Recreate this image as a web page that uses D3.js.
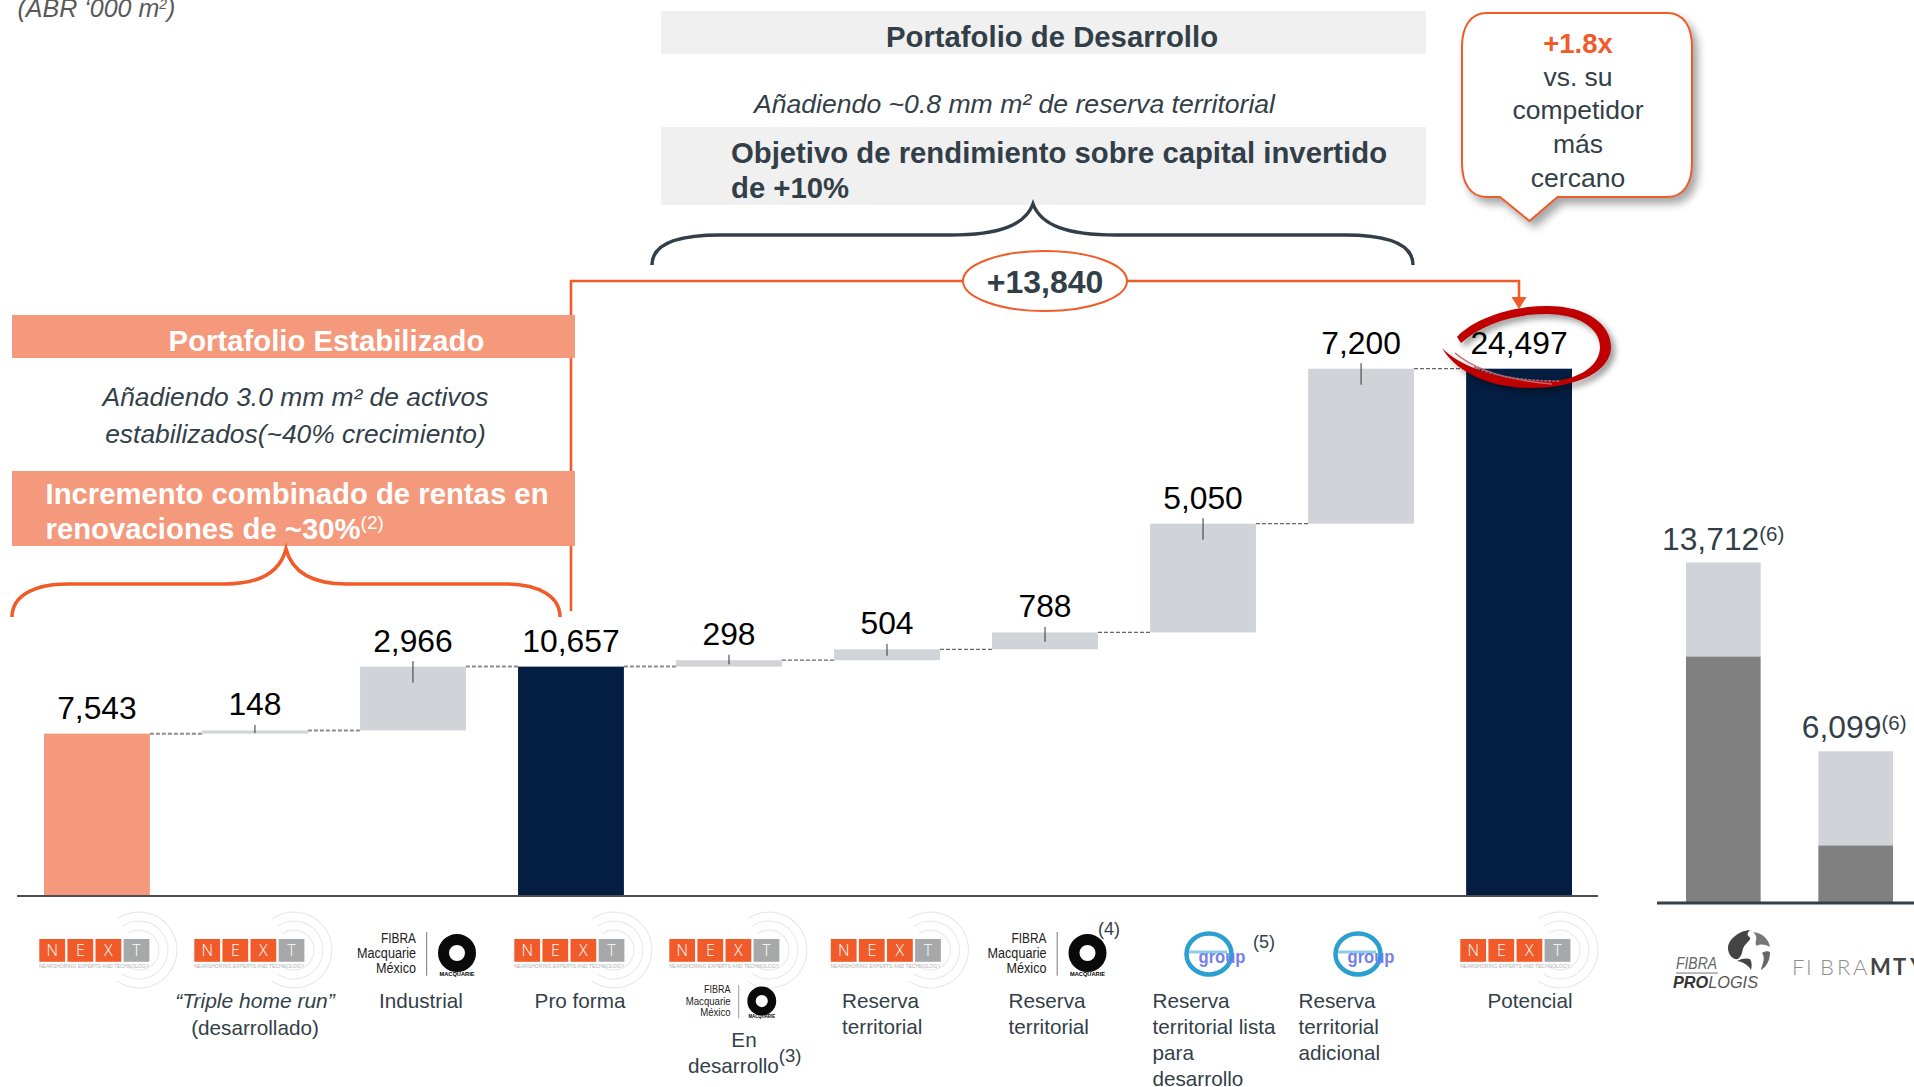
<!DOCTYPE html>
<html><head><meta charset="utf-8">
<script src="https://cdn.jsdelivr.net/npm/d3@7/dist/d3.min.js"></script>
<style>
html,body{margin:0;padding:0;background:#fff;overflow:hidden}
svg{display:block;font-family:"Liberation Sans",Arial,sans-serif}
</style></head><body>
<svg id="c" width="1914" height="1087"></svg>
<script>
// ---- data ----
const stepIds = ["base","triple","industrial","proforma","desarrollo","reserva1","reserva2","lista","adicional","potencial"];
const stepValues = [7543,148,2966,10657,298,504,788,5050,7200,24497];
const stepKinds = ["start","delta","delta","total","delta","delta","delta","delta","delta","total"];
const peerIds = ["prologis","mty"];
const peerTotals = [13712,6099];
const peerLower = [9920,2300];
const peerLabels = ["13,712","6,099"];

const ORANGE="#F15A29",SALMON="#F4997B",NAVY="#041E42",LIGHT="#D0D3D8",DARK="#333F48",GREY="#808080",BAND="#F0F0F0";
const fmt=d3.format(",");
const svg=d3.select("#c");

// ---- scales ----
const x=d3.scaleBand().domain(stepIds).range([44,1572]).paddingInner(.33).paddingOuter(0);
const y=d3.scaleLinear().domain([0,24497]).range([896,368.7]);
const xp=d3.scaleBand().domain(peerIds).range([1686,1893]).paddingInner(.436).paddingOuter(0);
const yp=d3.scaleLinear().domain([0,13712]).range([902.5,562.5]);

// waterfall stacking
let run=0;
const rows=stepIds.map((id,i)=>{
  const v=stepValues[i],k=stepKinds[i];
  let y0,y1;
  if(k==="delta"){y0=run;y1=run+v;run=y1;}else{y0=0;y1=v;run=v;}
  return {id,v,k,y0,y1};
});
const fills={start:SALMON,delta:LIGHT,total:NAVY};

function txt(p,t,xx,yy,o={}){
  const s=p.append("text").attr("x",xx).attr("y",yy).text(t)
    .attr("font-size",o.size||20).attr("fill",o.fill||DARK)
    .attr("text-anchor",o.anchor||"start");
  if(o.bold)s.attr("font-weight","bold");
  if(o.italic)s.attr("font-style","italic");
  return s;
}
function sup(s,t,size,fill,k=.55){
  s.append("tspan").attr("dy",-size*k).attr("font-size",size).attr("font-weight","normal").attr("fill",fill).text(t);
}

// ---- top labels and bands ----
const unit=txt(svg,"(ABR ‘000 m",17.5,16.5,{size:25,italic:true,fill:"#595959"});
sup(unit,"2",14,"#595959");
unit.append("tspan").attr("dy",7.7).text(")");

function band(x0,y0,x1,y1,c){svg.append("rect").attr("x",x0).attr("y",y0).attr("width",x1-x0).attr("height",y1-y0).attr("fill",c);}

// orange span line
const frame=svg.append("g");
frame.append("path").attr("d","M571,611V281H1519V298").attr("fill","none").attr("stroke",ORANGE).attr("stroke-width",2.6);
frame.append("path").attr("d","M1511.5,297H1526.5L1519,309Z").attr("fill",ORANGE);

band(12,315,575,358,SALMON);
txt(svg,"Portafolio Estabilizado",326.5,351,{size:29.3,bold:true,fill:"#fff",anchor:"middle"});
txt(svg,"Añadiendo 3.0 mm m² de activos",295.5,406,{size:26.4,italic:true,anchor:"middle"});
txt(svg,"estabilizados(~40% crecimiento)",295.5,443,{size:26.4,italic:true,anchor:"middle"});
band(12,471,575,546,SALMON);
txt(svg,"Incremento combinado de rentas en",45.5,504,{size:29.3,bold:true,fill:"#fff"});
const inc=txt(svg,"renovaciones de ~30%",45.5,539,{size:29.3,bold:true,fill:"#fff"});
sup(inc,"(2)",19,"#fff");

band(661,11,1426,54,BAND);
txt(svg,"Portafolio de Desarrollo",1052,46.5,{size:29.3,bold:true,anchor:"middle"});
txt(svg,"Añadiendo ~0.8 mm m² de reserva territorial",754,113,{size:26.6,italic:true});
band(661,127,1426,205,BAND);
txt(svg,"Objetivo de rendimiento sobre capital invertido",731,163,{size:29.3,bold:true});
txt(svg,"de +10%",731,198,{size:29.3,bold:true});

// braces
svg.append("path").attr("d","M652,265C652,245 675,235 720,235L950,235C1000,235 1025,225 1033,204C1041,225 1066,235 1116,235L1345,235C1390,235 1413,245 1413,265")
  .attr("fill","none").attr("stroke",DARK).attr("stroke-width",3.5);
svg.append("path").attr("d","M12,617C12,597 32,584 68,584L225,584C260,584 280,572 286,549C292,572 312,584 347,584L505,584C540,584 560,597 560,617")
  .attr("fill","none").attr("stroke",ORANGE).attr("stroke-width",3.5);

// delta ellipse
svg.append("ellipse").attr("cx",1045).attr("cy",281).attr("rx",82).attr("ry",30).attr("fill","#fff").attr("stroke",ORANGE).attr("stroke-width",2);
txt(svg,"+13,840",1045,293,{size:32,bold:true,anchor:"middle"});

// callout
svg.append("path").attr("d","M1487,13H1667C1684,13 1692,27 1692,47V163C1692,183 1684,197 1667,197H1557.5L1529.5,221L1500,197H1487C1470,197 1462,183 1462,163V47C1462,27 1470,13 1487,13Z")
  .attr("fill","#fff").attr("stroke",ORANGE).attr("stroke-width",2)
  .style("filter","drop-shadow(5px 6px 4px rgba(0,0,0,.35))");
txt(svg,"+1.8x",1578,53,{size:27.5,bold:true,fill:ORANGE,anchor:"middle"});
[["vs. su",86],["competidor",119],["más",153],["cercano",187]].forEach(d=>txt(svg,d[0],1578,d[1],{size:26.5,anchor:"middle"}));

// ---- waterfall ----
const g=svg.append("g");
g.selectAll("rect").data(rows).join("rect")
  .attr("x",d=>x(d.id)).attr("width",x.bandwidth())
  .attr("y",d=>y(d.y1)).attr("height",d=>y(d.y0)-y(d.y1))
  .attr("fill",d=>fills[d.k]);
// connectors
g.selectAll("line.c").data(rows.slice(0,-1)).join("line").attr("class","c")
  .attr("x1",d=>x(d.id)+x.bandwidth()).attr("x2",(d,i)=>x(rows[i+1].id))
  .attr("y1",d=>y(d.y1)).attr("y2",d=>y(d.y1))
  .attr("stroke",(d,i)=>i<4?"#8C8C8C":"#666").attr("stroke-width",(d,i)=>i<4?2:1.2).attr("stroke-dasharray","4 2");
// leader ticks
g.selectAll("line.t").data(rows.filter(d=>d.k==="delta")).join("line").attr("class","t")
  .attr("x1",d=>x(d.id)+x.bandwidth()/2).attr("x2",d=>x(d.id)+x.bandwidth()/2)
  .attr("y1",d=>y(d.y1)-5.5)
  .attr("y2",d=>Math.min(y(d.y1)+16,(y(d.y1)+y(d.y0))/2+1))
  .attr("stroke","#333").attr("stroke-width",1);

// baseline
svg.append("line").attr("x1",17).attr("x2",1598).attr("y1",896).attr("y2",896).attr("stroke","#4B4F54").attr("stroke-width",2);

// scribble
svg.append("path").attr("d","M1457,337C1470,322 1505,306 1547,306C1588,306 1611,325 1611,347C1611,370 1580,388 1530,388C1495,388 1458,375 1442,348C1462,368 1500,381 1553,381C1580,379 1600,365 1600,347C1600,328 1578,314 1547,314C1510,314 1480,326 1461,343Z")
  .attr("fill","#C00000").style("filter","drop-shadow(4px 4px 3px rgba(0,0,0,.4))");
svg.append("path").attr("d","M1455,353C1475,370 1505,380 1552,384").attr("fill","none").attr("stroke","#C8646A").attr("stroke-width",1.4);
svg.append("path").attr("d","M1474,367C1495,376 1520,381 1560,381").attr("fill","none").attr("stroke","#9A6A78").attr("stroke-width",1.6).attr("stroke-dasharray","3 1");

// value labels
svg.selectAll("text.v").data(rows).join("text").attr("class","v")
  .attr("x",d=>x(d.id)+x.bandwidth()/2).attr("y",d=>y(d.y1)-15)
  .attr("text-anchor","middle").attr("font-size",31.8).attr("fill","#000")
  .text(d=>fmt(d.v));

// ---- peers ----
const pg=svg.append("g");
const peerLabelShift=[-24,-16.5];
peerIds.forEach((id,i)=>{
  pg.append("rect").attr("x",xp(id)).attr("width",xp.bandwidth()).attr("y",yp(peerTotals[i])).attr("height",yp(peerLower[i])-yp(peerTotals[i])).attr("fill",LIGHT);
  pg.append("rect").attr("x",xp(id)).attr("width",xp.bandwidth()).attr("y",yp(peerLower[i])).attr("height",yp(0)-yp(peerLower[i])).attr("fill",GREY);
  const l=txt(pg,peerLabels[i],xp(id)+peerLabelShift[i],yp(peerTotals[i])-13,{size:31.8});
  sup(l,"(6)",20.5,DARK,.4);
});
svg.append("line").attr("x1",1657).attr("x2",1914).attr("y1",903).attr("y2",903).attr("stroke",DARK).attr("stroke-width",3);

// ---- logos ----
const ringArc=d3.arc().startAngle(-35*Math.PI/180).endAngle(215*Math.PI/180);
function nextLogo(x0){
  const l=svg.append("g").attr("transform",`translate(${x0},0)`);
  [38,29,20].forEach(r=>l.append("path").attr("transform","translate(100,950)")
    .attr("d",ringArc({innerRadius:r-.5,outerRadius:r+.5})).attr("fill","#E6E6E6"));
  ["N","E","X","T"].forEach((c,i)=>{
    const bx=.3+i*28.1;
    l.append("rect").attr("x",bx).attr("y",939).attr("width",25.8).attr("height",22.8).attr("fill",i===3?"#A6A8AA":ORANGE);
    txt(l,c,bx+12.9,956.3,{size:16,fill:"#fff",anchor:"middle"}).attr("font-family","'Open Sans','Liberation Sans',sans-serif").attr("font-weight","300");
  });
  l.append("text").attr("x",0).attr("y",968).attr("font-size",5.5).attr("fill","#B0B0B0").attr("textLength",110).attr("lengthAdjust","spacingAndGlyphs").text("NEARSHORING EXPERTS AND TECHNOLOGY");
}
function fibraLogo(right,cy,k){
  const l=svg.append("g").attr("transform",`translate(${right},${cy}) scale(${k})`);
  [["FIBRA",35,-4],["Macquarie",59,10.7],["México",40,26]].forEach(t=>txt(l,t[0],0,t[2],{size:14,fill:"#222",anchor:"end"}).attr("textLength",t[1]).attr("lengthAdjust","spacingAndGlyphs"));
  l.append("line").attr("x1",10.7).attr("x2",10.7).attr("y1",-15).attr("y2",28.7).attr("stroke","#777").attr("stroke-width",1);
  l.append("circle").attr("cx",41).attr("cy",6).attr("r",13.5).attr("fill","none").attr("stroke","#0a0a0a").attr("stroke-width",11);
  l.append("text").attr("x",41).attr("y",28.7).attr("font-size",6).attr("font-weight","bold").attr("fill","#000").attr("text-anchor","middle").attr("textLength",35).attr("lengthAdjust","spacingAndGlyphs").text("MACQUARIE");
}
function groupLogo(cx){
  const l=svg.append("g").attr("transform",`translate(${cx},954)`);
  l.append("ellipse").attr("rx",22.5).attr("ry",20.5).attr("fill","none").attr("stroke","#2A9FD0").attr("stroke-width",4.5);
  l.append("rect").attr("x",-20).attr("y",-3.5).attr("width",38).attr("height",3).attr("fill","#8CCDE8");
  txt(l,"group",13,9,{size:19,bold:true,fill:"#7480EA",anchor:"middle"}).attr("textLength",47).attr("lengthAdjust","spacingAndGlyphs");
}
[39,194,514,669,830.5,1460].forEach(nextLogo);
fibraLogo(416,947,1);
fibraLogo(1046.5,947,1);
fibraLogo(730.6,996.5,.76);
groupLogo(1209);
groupLogo(1358);

// prologis
const pl=svg.append("g");
txt(pl,"FIBRA",1676,969,{size:16,italic:true,fill:"#666"}).attr("textLength",41).attr("lengthAdjust","spacingAndGlyphs");
pl.append("line").attr("x1",1676).attr("x2",1718).attr("y1",973).attr("y2",973).attr("stroke","#777");
const pro=txt(pl,"PRO",1673,988,{size:17,italic:true,bold:true,fill:"#333"});
pro.append("tspan").attr("font-weight","normal").attr("fill","#555").text("LOGIS");
pro.attr("textLength",85).attr("lengthAdjust","spacingAndGlyphs");
[["M1750,930C1738,931 1728,940 1728,948C1728,955 1733,960 1738,959C1744,955 1741,948 1746,944C1750,940 1752,938 1748,936C1747,934 1748,932 1750,930Z","#444"],
 ["M1753,932C1763,933 1769,940 1770,947C1764,944 1760,944 1757,946C1753,942 1760,938 1753,932Z","#777"],
 ["M1762,953C1765,951 1768,951 1770,952C1770,960 1767,966 1761,970C1762,965 1766,958 1762,953Z","#666"],
 ["M1737,961C1742,958 1747,958 1750,959C1752,962 1752,966 1751,970C1749,966 1744,962 1737,961Z","#444"]]
 .forEach(b=>pl.append("path").attr("d",b[0]).attr("fill",b[1]));

// fibra mty
svg.append("text").attr("x","1792 1806 1820 1837 1853").attr("y",975).attr("font-size",22).attr("font-family","Lato").attr("font-weight","300").attr("fill","#8E8E8E").text("FIBRA");
svg.append("text").attr("x","1870 1893 1910").attr("y",975).attr("font-size",22).attr("font-family","Lato").attr("font-weight","bold").attr("fill","#444").text("MTY");

// ---- category labels ----
const F=20.7;
const L={size:F,fill:DARK};
const C={size:F,fill:DARK,anchor:"middle"};
txt(svg,"“Triple home run”",255,1007.5,{size:21,fill:DARK,anchor:"middle",italic:true});
txt(svg,"(desarrollado)",255,1034.5,C);
txt(svg,"Industrial",421,1007.5,C);
txt(svg,"Pro forma",580,1007.5,C);
txt(svg,"En",744,1046.5,C);
const dd=txt(svg,"desarrollo",688,1072.5,L); sup(dd,"(3)",18.5,DARK);
[[842,["Reserva","territorial"]],[1008.5,["Reserva","territorial"]],[1152.5,["Reserva","territorial lista","para","desarrollo"]],[1298.5,["Reserva","territorial","adicional"]]]
 .forEach(d=>d[1].forEach((t,i)=>txt(svg,t,d[0],1007.5+i*26,L)));
txt(svg,"Potencial",1530,1007.5,C);
txt(svg,"(4)",1109,935,{size:18,fill:DARK,anchor:"middle"});
txt(svg,"(5)",1264,948,{size:18,fill:DARK,anchor:"middle"});
</script>
</body></html>
